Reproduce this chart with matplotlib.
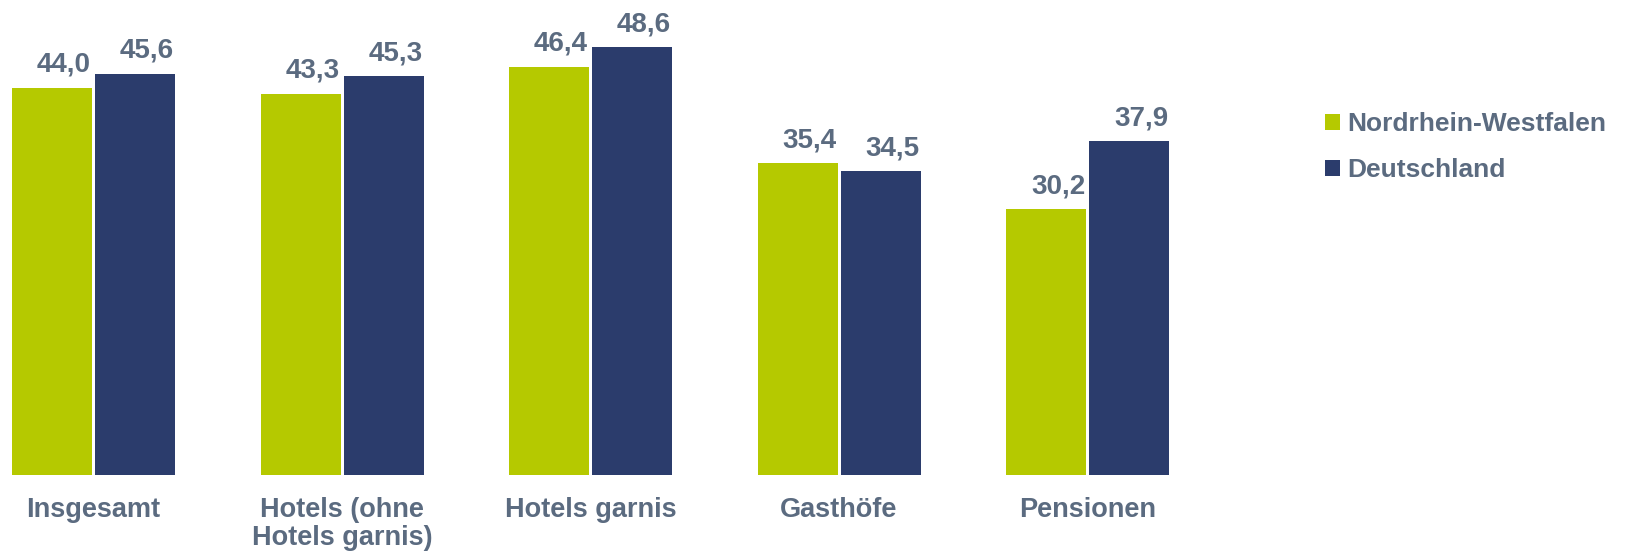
import matplotlib
matplotlib.use("Agg")
import matplotlib.pyplot as plt
import numpy as np

categories = ["Insgesamt", "Hotels (ohne\nHotels garnis)", "Hotels garnis", "Gasthöfe", "Pensionen"]
nrw = [44.0, 43.3, 46.4, 35.4, 30.2]
de = [45.6, 45.3, 48.6, 34.5, 37.9]
series_names = ["Nordrhein-Westfalen", "Deutschland"]

GREEN = "#b5c900"
NAVY = "#2b3c6c"
TEXT = "#5b6b80"
FONT = ["Liberation Sans", "DejaVu Sans"]

W, H = 1625, 551
fig = plt.figure(figsize=(W / 100, H / 100), dpi=100)
unit = 248.5  # pixels per category
c0 = 93.5     # pixel of first category center
ax_right = 1170
base = 475
ax = fig.add_axes([0, (H - base) / H, ax_right / W, base / H])
ax.set_xlim(-c0 / unit, (ax_right - c0) / unit)
ax.set_ylim(0, base / 8.8)
ax.axis("off")

x = np.arange(len(categories))
bw = 80 / unit
off = 41.5 / unit
b1 = ax.bar(x - off, nrw, bw, color=GREEN, label=series_names[0])
b2 = ax.bar(x + off, de, bw, color=NAVY, label=series_names[1])

def fmt(v):
    return f"{v:.1f}".replace(".", ",")

for xs, vals in ((x - off, nrw), (x + off, de)):
    for xi, v in zip(xs, vals):
        ax.annotate(fmt(v), xy=(xi, v), xytext=(12, 16), textcoords="offset pixels",
                    ha="center", va="baseline", fontsize=20, fontweight="bold",
                    color=TEXT, family=FONT)

for xi, cat in zip(x, categories):
    ax.annotate(cat, xy=(xi, 0), xycoords=("data", "axes fraction"),
                xytext=(0, -22), textcoords="offset pixels",
                ha="center", va="top", fontsize=19.5, fontweight="bold",
                color=TEXT, family=FONT, linespacing=1.1)

leg = fig.legend(handles=[b1, b2], loc="upper left",
                 bbox_to_anchor=(1325 / W, 1 - 112 / H), bbox_transform=fig.transFigure,
                 frameon=False, prop={"family": FONT, "weight": "bold", "size": 19},
                 handlelength=0.55, handleheight=0.55, handletextpad=0.3,
                 labelspacing=0.85, borderpad=0, borderaxespad=0)
for t in leg.get_texts():
    t.set_color(TEXT)

fig.savefig("out.png", dpi=100)
